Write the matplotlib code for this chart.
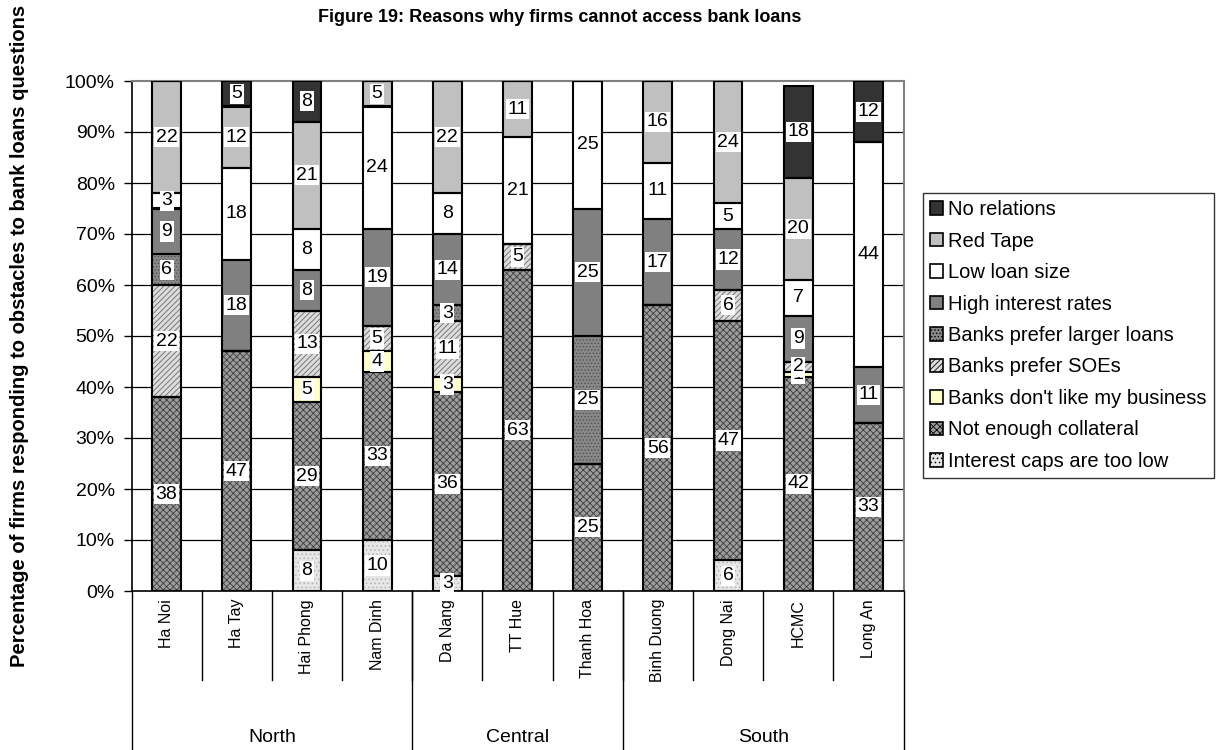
import matplotlib
matplotlib.use("Agg")
import matplotlib.pyplot as plt
from matplotlib.patches import Patch
from matplotlib.transforms import blended_transform_factory
import numpy as np

plt.rcParams['font.family'] = ['Liberation Sans', 'DejaVu Sans']
plt.rcParams['hatch.linewidth'] = 0.6

# Provinces and regions
provinces = ["Ha Noi", "Ha Tay", "Hai Phong", "Nam Dinh", "Da Nang", "TT Hue",
             "Thanh Hoa", "Binh Duong", "Dong Nai", "HCMC", "Long An"]
regions = ["North", "Central", "South"]
region_sizes = [4, 3, 4]

# Share of firms (%) citing each reason, stacked bottom to top
interest_caps = [0, 0, 8, 10, 3, 0, 0, 0, 6, 0, 0]
collateral = [38, 47, 29, 33, 36, 63, 25, 56, 47, 42, 33]
dont_like = [0, 0, 5, 4, 3, 0, 0, 0, 0, 1, 0]
prefer_soes = [22, 0, 13, 5, 11, 5, 0, 0, 6, 2, 0]
prefer_larger = [6, 0, 0, 0, 3, 0, 25, 0, 0, 0, 0]
high_interest = [9, 18, 8, 19, 14, 0, 25, 17, 12, 9, 11]
low_loan = [3, 18, 8, 24, 8, 21, 25, 11, 5, 7, 44]
red_tape = [22, 12, 21, 5, 22, 11, 0, 16, 24, 20, 0]
no_relations = [0, 5, 8, 0, 0, 0, 0, 0, 0, 18, 12]

series_names = ["Interest caps are too low", "Not enough collateral",
                "Banks don't like my business", "Banks prefer SOEs",
                "Banks prefer larger loans", "High interest rates",
                "Low loan size", "Red Tape", "No relations"]
series_values = [interest_caps, collateral, dont_like, prefer_soes,
                 prefer_larger, high_interest, low_loan, red_tape, no_relations]

# (face colour, hatch, hatch colour) for each series
styles = [
    ("#e6e6e6", "....", "#b4b4b4"),
    ("#9c9c9c", "xxxxx", "#3c3c3c"),
    ("#ffffcc", "", "#ffffcc"),
    ("#dcdcdc", "//////", "#6a6a6a"),
    ("#888888", ".....", "#505050"),
    ("#808080", "", "#808080"),
    ("#ffffff", "", "#ffffff"),
    ("#c0c0c0", "", "#c0c0c0"),
    ("#333333", "", "#333333"),
]

FS = 14
fig = plt.figure(figsize=(12.23, 7.5), dpi=100)
ax = fig.add_axes([131.5 / 1223, 1 - 591 / 750, 772 / 1223, 510 / 750])

x = np.arange(len(provinces))
width = 0.41
bottom = np.zeros(len(provinces))
for name, vals, (fc, hatch, hc) in zip(series_names, series_values, styles):
    vals = np.array(vals, dtype=float)
    ax.bar(x, vals, width, bottom=bottom, color=fc, edgecolor=hc,
           linewidth=0, hatch=hatch, zorder=2)
    ax.bar(x, vals, width, bottom=bottom, fill=False, edgecolor="black",
           linewidth=1.5, zorder=3)
    for xi, v, b in zip(x, vals, bottom):
        if v > 0:
            ax.text(xi, b + v / 2, f"{int(v)}", ha="center", va="center",
                    fontsize=FS, zorder=4,
                    bbox=dict(boxstyle="square,pad=0.08", fc="white",
                              ec="none"))
    bottom += vals

ax.set_xlim(-0.5, len(provinces) - 0.5)
ax.set_ylim(0, 100)
ax.set_yticks(np.arange(0, 101, 10))
ax.set_yticklabels([f"{t}%" for t in range(0, 101, 10)], fontsize=FS)
ax.tick_params(axis="y", direction="out", length=6, width=1, pad=6)
ax.set_xticks([])
for yv in range(10, 100, 10):
    ax.axhline(yv, color="black", lw=0.9, zorder=1)

for side in ("top", "right"):
    ax.spines[side].set_color("#808080")
    ax.spines[side].set_linewidth(1.5)
for side in ("left", "bottom"):
    ax.spines[side].set_color("black")
    ax.spines[side].set_linewidth(1.2)

# Two-level category axis below the plot
trans = blended_transform_factory(ax.transData, fig.transFigure)
axis_y = 1 - 591 / 750
cat_bottom = 1 - 680 / 750
for k in range(len(provinces) - 1):
    ax.plot([k + 0.5, k + 0.5], [axis_y, cat_bottom], transform=trans,
            color="black", lw=1, clip_on=False)
start = 0
bounds = [-0.5]
for name, size in zip(regions, region_sizes):
    center = start + (size - 1) / 2
    ax.text(center, 1 - 738 / 750, name, transform=trans, ha="center",
            va="center", fontsize=FS)
    start += size
    bounds.append(start - 0.5)
for bx in bounds:
    ax.plot([bx, bx], [axis_y, 0], transform=trans, color="black", lw=1,
            clip_on=False)
for xi, name in zip(x, provinces):
    ax.text(xi, 1 - 599 / 750, name, transform=trans, rotation=90,
            ha="center", va="top", fontsize=11.5)

fig.text(560 / 1223, 1 - 18 / 750,
         "Figure 19: Reasons why firms cannot access bank loans",
         ha="center", va="center", fontsize=13, fontweight="bold")
fig.text(20 / 1223, 1 - 336 / 750,
         "Percentage of firms responding to obstacles to bank loans questions",
         ha="center", va="center", rotation=90, fontsize=14.5,
         fontweight="bold")

handles = [Patch(facecolor=fc, hatch=hatch, edgecolor="black", linewidth=1.2)
           for (fc, hatch, hc) in styles]
leg = fig.legend(handles[::-1], series_names[::-1],
                 loc="upper left", bbox_to_anchor=(923 / 1223, 1 - 193 / 750),
                 bbox_transform=fig.transFigure, borderaxespad=0,
                 fontsize=14.5, frameon=True, fancybox=False, shadow=False,
                 handlelength=0.65, handleheight=0.65, handletextpad=0.25,
                 labelspacing=0.62, borderpad=0.35)
leg.get_frame().set_edgecolor("black")
leg.get_frame().set_linewidth(1.0)

fig.savefig("out.png", dpi=100)
